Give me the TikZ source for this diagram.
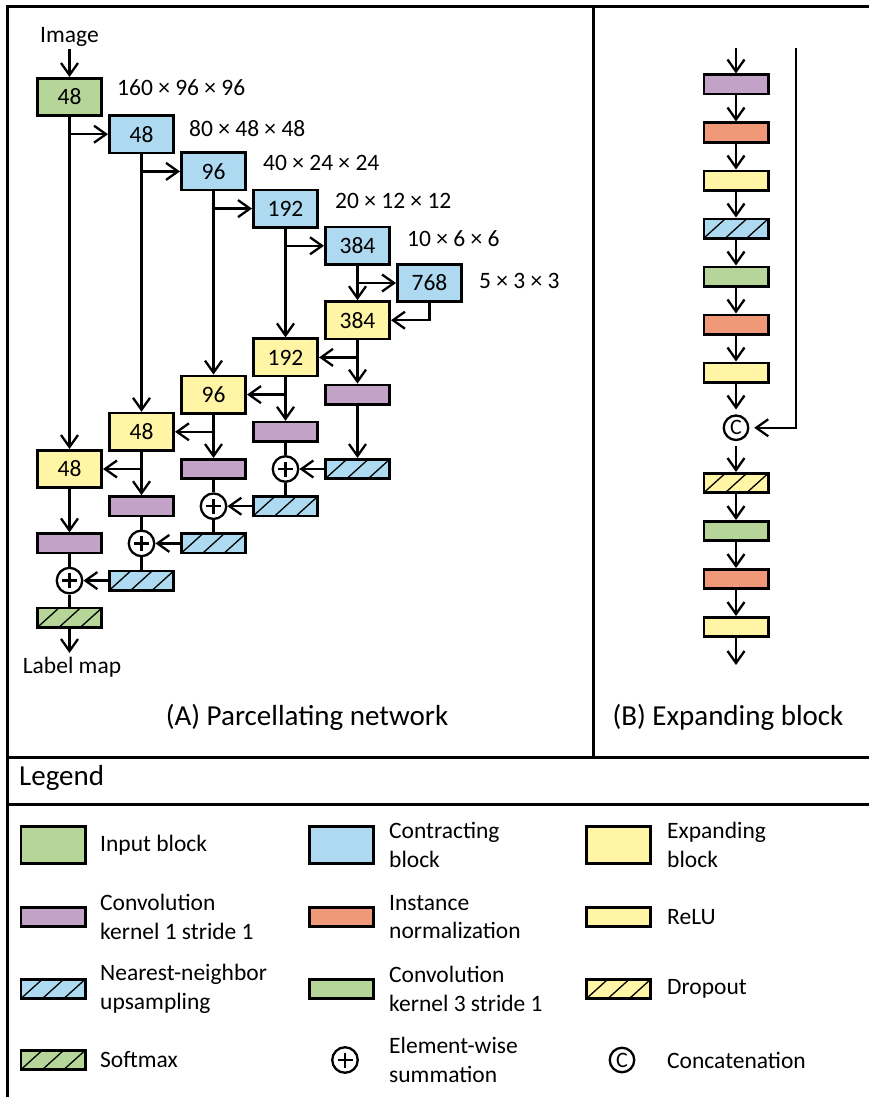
\documentclass[tikz,border=0pt]{standalone}
\usepackage{fontspec}
\setmainfont{Carlito}
\usetikzlibrary{arrows.meta, positioning, calc}

\definecolor{inGreen}{RGB}{181,213,153}
\definecolor{conBlue}{RGB}{173,218,240}
\definecolor{expYellow}{RGB}{255,245,164}
\definecolor{convPurple}{RGB}{195,162,200}
\definecolor{normOrange}{RGB}{239,153,121}

\newcommand{\lblfont}{\fontsize{23.5}{28.5}\selectfont}
\newcommand{\ttlfont}{\fontsize{29}{34}\selectfont}
\newcommand{\catfont}{\fontsize{22}{22}\selectfont}

\begin{document}
\begin{tikzpicture}[x=1pt, y=-1pt,
    framel/.style={draw, line width=3pt},
    block/.style={rectangle, draw, line width=2.6pt, minimum width=64.4pt, minimum height=37.4pt, inner sep=0pt, font=\lblfont},
    thinbox/.style={rectangle, draw, line width=2.6pt, minimum width=64.4pt, minimum height=19.4pt, inner sep=0pt},
    hatch/.style={path picture={
        \foreach \i [evaluate=\i as \k using \i/3, evaluate=\i as \j using (\i+1)/3] in {0,1,2}
          \draw[line width=1.3pt] ($(path picture bounding box.south west)!\k!(path picture bounding box.south east)$)
            -- ($(path picture bounding box.north west)!\j!(path picture bounding box.north east)$);
      }},
    inblk/.style={block, fill=inGreen},
    conblk/.style={block, fill=conBlue},
    expblk/.style={block, fill=expYellow},
    conv1/.style={thinbox, fill=convPurple},
    inorm/.style={thinbox, fill=normOrange},
    relu/.style={thinbox, fill=expYellow},
    conv3/.style={thinbox, fill=inGreen},
    upsamp/.style={thinbox, fill=conBlue, hatch},
    dropout/.style={thinbox, fill=expYellow, hatch},
    softmax/.style={thinbox, fill=inGreen, hatch},
    sumop/.style={circle, draw, fill=white, line width=2.3pt, minimum size=25.5pt, inner sep=0pt,
      path picture={\draw[line width=2.3pt]
        ([xshift=-7.5pt]path picture bounding box.center) -- ([xshift=7.5pt]path picture bounding box.center)
        ([yshift=-7.5pt]path picture bounding box.center) -- ([yshift=7.5pt]path picture bounding box.center);}},
    catop/.style={circle, draw, line width=2.3pt, minimum size=24.5pt, inner sep=0pt, outer sep=6pt, font=\catfont},
    lbl/.style={font=\lblfont, inner sep=0pt},
    ttl/.style={font=\ttlfont, inner sep=0pt},
    arr/.style={-{Straight Barb[length=12pt, width=17pt]}, line width=2.3pt},
    ln/.style={line width=2.3pt},
    node distance=26pt
]
\useasboundingbox (0,0) rectangle (869,1097);
\clip (0,0) rectangle (869,1097);

% Frames
\draw[framel] (7,1110) -- (7,7) -- (890,7);
\draw[framel] (593,7) -- (593,757);
\draw[framel] (7,757) -- (890,757);
\draw[framel] (7,804) -- (890,804);

% (A) Parcellating network: contracting path
\node[lbl, inner sep=2pt] (img) at (69.5,37) {Image};
\node[inblk] (in48) at (69.5,97) {48};
\node[conblk] (c48) at (141.5,134.2) {48};
\node[conblk] (c96) at (213.5,171.4) {96};
\node[conblk] (c192) at (285.5,208.6) {192};
\node[conblk] (c384) at (357.5,245.8) {384};
\node[conblk] (c768) at (429.5,283) {768};

\node[lbl, right=14pt of in48, yshift=9pt] (d1) {160 × 96 × 96};
\node[lbl, right=14pt of c48, yshift=6pt] (d2) {80 × 48 × 48};
\node[lbl, right=16pt of c96, yshift=8pt] (d3) {40 × 24 × 24};
\node[lbl, right=16pt of c192, yshift=8pt] (d4) {20 × 12 × 12};
\node[lbl, right=16pt of c384, yshift=7pt] (d5) {10 × 6 × 6};
\node[lbl, right=16pt of c768, yshift=2pt] (d6) {5 × 3 × 3};

% expanding path
\node[expblk] (e384) at (357.5,320.2) {384};
\node[expblk] (e192) at (285.5,357.4) {192};
\node[expblk] (e96) at (213.5,394.6) {96};
\node[expblk] (e48b) at (141.5,431.8) {48};
\node[expblk] (e48a) at (69.5,469) {48};

\node[conv1] (p5) at (357.5,394.6) {};
\node[conv1] (p4) at (285.5,431.8) {};
\node[conv1] (p3) at (213.5,469) {};
\node[conv1] (p2) at (141.5,506.2) {};
\node[conv1] (p1) at (69.5,543.4) {};

\node[upsamp] (u5) at (357.5,469) {};
\node[upsamp] (u4) at (285.5,506.2) {};
\node[upsamp] (u3) at (213.5,543.4) {};
\node[upsamp] (u2) at (141.5,580.6) {};

\node[sumop] (s4) at (285.5,469) {};
\node[sumop] (s3) at (213.5,506.2) {};
\node[sumop] (s2) at (141.5,543.4) {};
\node[sumop] (s1) at (69.5,580.6) {};

\node[softmax] (smax) at (69.5,617.8) {};
\coordinate (lmapend) at (69.5,653);
\node[lbl, below=4pt of lmapend, xshift=2.5pt] (lmap) {Label map};

\draw[arr] (img) -- (in48);
\draw[arr] (in48) -- (e48a);
\draw[arr] (in48.south |- c48) -- (c48);
\draw[arr] (c48) -- (e48b);
\draw[arr] (c48.south |- c96) -- (c96);
\draw[arr] (c96) -- (e96);
\draw[arr] (c96.south |- c192) -- (c192);
\draw[arr] (c192) -- (e192);
\draw[arr] (c192.south |- c384) -- (c384);
\draw[arr] (c384) -- (e384);
\draw[arr] (c384.south |- c768) -- (c768);
\draw[arr] (c768.south) |- (e384);

\draw[arr] (e384) -- (p5);
\draw[arr] (e384.south |- e192) -- (e192);
\draw[arr] (e192) -- (p4);
\draw[arr] (e192.south |- e96) -- (e96);
\draw[arr] (e96) -- (p3);
\draw[arr] (e96.south |- e48b) -- (e48b);
\draw[arr] (e48b) -- (p2);
\draw[arr] (e48b.south |- e48a) -- (e48a);
\draw[arr] (e48a) -- (p1);

% deep supervision sums
\draw[arr] (p5) -- (u5);
\draw[arr] (u5) -- (s4);
\draw[ln] (p4) -- (s4) -- (u4);
\draw[arr] (u4) -- (s3);
\draw[ln] (p3) -- (s3) -- (u3);
\draw[arr] (u3) -- (s2);
\draw[ln] (p2) -- (s2) -- (u2);
\draw[arr] (u2) -- (s1);
\draw[ln] (p1) -- (s1) -- (smax);
\draw[arr] (smax) -- (lmapend);

\node[ttl] (ttla) at (307,717) {(A) Parcellating network};

% (B) Expanding block
\coordinate (bin) at (736,48);
\coordinate (bskip) at (796,48);
\node[conv1] (b1) at (736,84.5) {};
\node[inorm, below=of b1] (b2) {};
\node[relu, below=of b2] (b3) {};
\node[upsamp, below=of b3] (b4) {};
\node[conv3, below=of b4] (b5) {};
\node[inorm, below=of b5] (b6) {};
\node[relu, below=of b6] (b7) {};
\node[catop, below=of b7] (cat) {C};
\node[dropout, below=of cat] (b8) {};
\node[conv3, below=of b8] (b9) {};
\node[inorm, below=of b9] (b10) {};
\node[relu, below=of b10] (b11) {};
\coordinate (bout) at (736,665);

\draw[arr] (bin) -- (b1);
\draw[arr] (b1) -- (b2);
\draw[arr] (b2) -- (b3);
\draw[arr] (b3) -- (b4);
\draw[arr] (b4) -- (b5);
\draw[arr] (b5) -- (b6);
\draw[arr] (b6) -- (b7);
\draw[arr] (b7) -- (cat);
\draw[arr] (cat) -- (b8);
\draw[arr] (b8) -- (b9);
\draw[arr] (b9) -- (b10);
\draw[arr] (b10) -- (b11);
\draw[arr] (b11) -- (bout);
\draw[arr] (bskip) |- (cat);

\node[ttl] (ttlb) at (728,717) {(B) Expanding block};

% Legend
\node[ttl, anchor=west] (leg) at (19,778) {Legend};

\node[inblk] (k1) at (53,845) {};
\node[conblk] (k2) at (341.5,845) {};
\node[expblk] (k3) at (618.5,845) {};
\node[conv1] (k4) at (53,917) {};
\node[inorm] (k5) at (341.5,917) {};
\node[relu] (k6) at (618.5,917) {};
\node[upsamp] (k7) at (53,989) {};
\node[conv3] (k8) at (341.5,989) {};
\node[dropout] (k9) at (618.5,989) {};
\node[softmax] (k10) at (53,1060) {};
\node[sumop] (k11) at (345,1060) {};
\node[catop] (k12) at (622,1060) {C};

\node[lbl, anchor=west, align=left] (t1) at (100,845) {Input block};
\node[lbl, anchor=west, align=left] (t2) at (389,845) {Contracting\\block};
\node[lbl, anchor=west, align=left] (t3) at (667,845) {Expanding\\block};
\node[lbl, anchor=west, align=left] (t4) at (100,917) {Convolution\\kernel 1 stride 1};
\node[lbl, anchor=west, align=left] (t5) at (389,917) {Instance\\normalization};
\node[lbl, anchor=west, align=left] (t6) at (667,917) {ReLU};
\node[lbl, anchor=west, align=left] (t7) at (100,989) {Nearest-neighbor\\upsampling};
\node[lbl, anchor=west, align=left] (t8) at (389,989) {Convolution\\kernel 3 stride 1};
\node[lbl, anchor=west, align=left] (t9) at (667,989) {Dropout};
\node[lbl, anchor=west, align=left] (t10) at (100,1060) {Softmax};
\node[lbl, anchor=west, align=left] (t11) at (389,1060) {Element-wise\\summation};
\node[lbl, anchor=west, align=left] (t12) at (667,1060) {Concatenation};

\end{tikzpicture}
\end{document}
